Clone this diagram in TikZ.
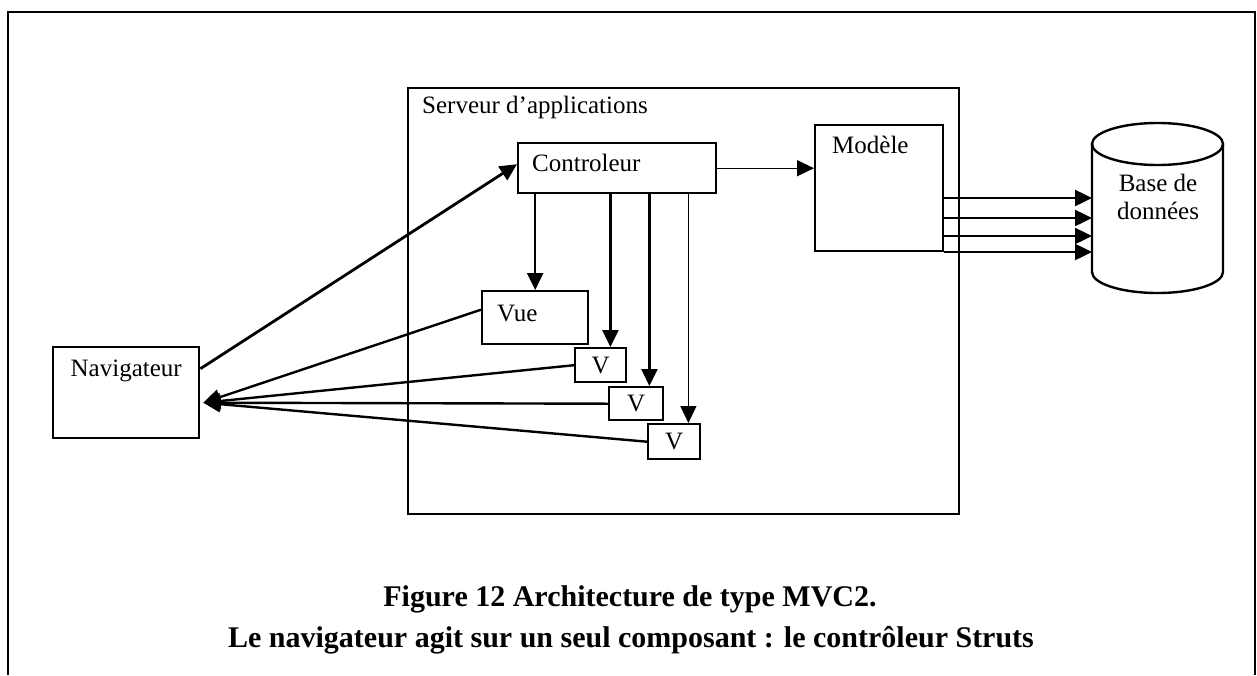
\documentclass[tikz,border=0pt]{standalone}
\usepackage{fontspec}
\setmainfont{Liberation Serif}
\usetikzlibrary{arrows.meta}
\tikzset{
  boite/.style={draw, line width=2.4pt, inner sep=0pt, anchor=north west},
  texte/.style={font=\fontsize{25}{28}\selectfont, inner sep=0pt},
  fleche/.style={line width=2.4pt, -{Triangle[length=17pt,width=16pt]}},
  fin/.style={line width=1.4pt, -{Triangle[length=17pt,width=16pt]}},
}
\begin{document}
\begin{tikzpicture}[x=1pt, y=-1pt]
			\useasboundingbox (0,0) rectangle (1257,675);
			% Cadre
			\draw[line width=2.6pt] (8,675) -- (8,12) -- (1255,12) -- (1255,675);

			% Boites
			\node[boite, line width=2pt, minimum width=551, minimum height=426] (srv) at (407,87) {};
			\node[boite, minimum width=198, minimum height=50] (ctrl) at (517,142) {};
			\node[boite, minimum width=128, minimum height=126] (mod) at (814,124) {};
			\node[boite, minimum width=146, minimum height=91] (nav) at (52,346) {};
			\node[boite, minimum width=106, minimum height=53] (vue) at (481,290) {};
			\node[boite, texte, minimum width=51, minimum height=34] (v1) at (574,347) {V};
			\node[boite, texte, minimum width=54, minimum height=33] (v2) at (608,386) {V};
			\node[boite, texte, minimum width=52, minimum height=35] (v3) at (647,423) {V};

			% Textes
			\node[texte, anchor=west] (srv-t) at ([xshift=15pt, yshift=-20pt]srv.north west) {Serveur d’applications};
			\node[texte, anchor=west] (ctrl-t) at ([xshift=15pt, yshift=-21pt]ctrl.north west) {Controleur};
			\node[texte, anchor=west] (mod-t) at ([xshift=18pt, yshift=-21pt]mod.north west) {Modèle};
			\node[texte] (nav-t) at ([yshift=-25pt]nav.north) {Navigateur};
			\node[texte, anchor=west] (vue-t) at ([xshift=16pt, yshift=-23pt]vue.north west) {Vue};

			% Base de donnees
			\draw[line width=2.4pt] (1092,144) -- (1092,272)
			arc[start angle=180, end angle=0, x radius=65.5, y radius=21] -- (1223,144);
			\draw[line width=2.4pt] (1157.5,144) ellipse [x radius=65.5, y radius=21];
			\node[texte, align=center] (db) at (1158,197) {Base de\\données};
			\coordinate (dbw) at (1092,200);

			% Fleches
			\draw[fleche, line width=2.8pt] ([yshift=24pt]nav.east) -- ([yshift=4pt]ctrl.west);
			\draw[fin] (ctrl.east) -- (mod.west |- ctrl.east);
			\foreach \y in {198,218,236,252}
			\draw[fleche] (mod.east |- 0,\y) -- (dbw |- 0,\y);

			\path ([xshift=-17pt]v1.north east) coordinate (a2)
			([xshift=-15pt]v2.north east) coordinate (a3)
			([xshift=-13pt]v3.north east) coordinate (a4);
			\draw[fleche] (ctrl.south -| vue.north) -- (vue.north);
			\draw[fleche] (ctrl.south -| a2) -- (a2);
			\draw[fleche] (ctrl.south -| a3) -- (a3);
			\draw[fin] (ctrl.south -| a4) -- (a4);

			\coordinate (navin) at ([xshift=3pt, yshift=-10pt]nav.east);
			\draw[fleche] ([yshift=8pt]vue.west) -- (navin);
			\draw[fleche] (v1.west) -- (navin);
			\draw[fleche] (v2.west) -- (navin);
			\draw[fleche] (v3.west) -- (navin);

			% Legende
			\node[font=\fontsize{30}{36}\selectfont\bfseries] (cap1) at (630,599) {Figure 12 Architecture de type MVC2.};
			\node[font=\fontsize{30}{36}\selectfont\bfseries] (cap2) at (631,640) {Le navigateur agit sur un seul composant : le contrôleur Struts};
		\end{tikzpicture}
\end{document}
